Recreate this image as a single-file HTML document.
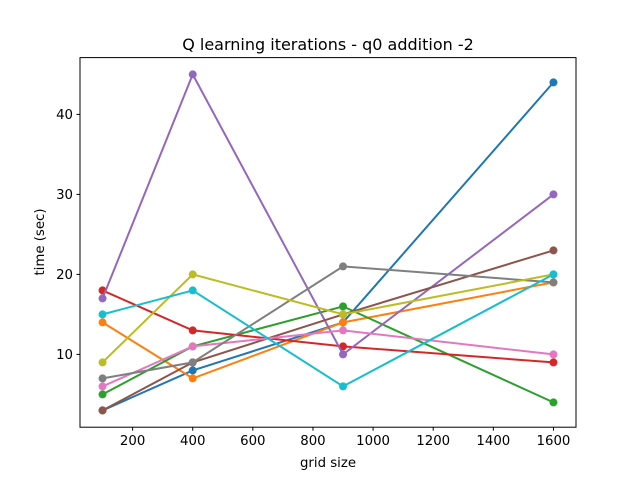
<!DOCTYPE html>
<html><head><meta charset="utf-8"><style>body{margin:0;background:#fff}svg{font-family:"DejaVu Sans","Liberation Sans",sans-serif}</style></head>
<body>
<svg id="chart" width="640" height="480" viewBox="0 0 640 480">
<rect width="640" height="480" fill="#fff"/>
<text x="328" y="50" text-anchor="middle" font-size="16">Q learning iterations - q0 addition -2</text>
<g id="plot"></g>
<rect x="80" y="57.6" width="496" height="369.6" fill="none" stroke="#000" stroke-width="1"/>
<text x="328" y="467" text-anchor="middle" font-size="13.3">grid size</text>
<text transform="translate(44,242) rotate(-90)" text-anchor="middle" font-size="13.3">time (sec)</text>
</svg>
<script>
const xs=[100,400,900,1600];
const blue=[3,8,14,44];
const orange=[14,7,14,19];
const green=[5,11,16,4];
const red=[18,13,11,9];
const purple=[17,45,10,30];
const brown=[3,9,15,23];
const pink=[6,11,13,10];
const gray=[7,9,21,19];
const olive=[9,20,15,20];
const cyan=[15,18,6,20];
const xTicks=[200,400,600,800,1000,1200,1400,1600];
const yTicks=[10,20,30,40];
const series=[["blue",blue,"#1f77b4"],["orange",orange,"#ff7f0e"],["green",green,"#2ca02c"],["red",red,"#d62728"],["purple",purple,"#9467bd"],["brown",brown,"#8c564b"],["pink",pink,"#e377c2"],["gray",gray,"#7f7f7f"],["olive",olive,"#bcbd22"],["cyan",cyan,"#17becf"]];
const NS="http://www.w3.org/2000/svg";
const L=80,R=576,T=57.6,B=427.2;
const allX=xs, allY=series.flatMap(s=>s[1]);
const xmin=Math.min(...allX),xmax=Math.max(...allX),ymin=Math.min(...allY),ymax=Math.max(...allY);
const xp=(xmax-xmin)*0.05,yp=(ymax-ymin)*0.05;
const sx=v=>L+(v-(xmin-xp))/((xmax+xp)-(xmin-xp))*(R-L);
const sy=v=>B-(v-(ymin-yp))/((ymax+yp)-(ymin-yp))*(B-T);
const g=document.getElementById('plot');
function mk(t,a){const e=document.createElementNS(NS,t);for(const k in a)e.setAttribute(k,a[k]);g.appendChild(e);return e;}
xTicks.forEach(v=>{const x=sx(v);
 const l=mk('line',{x1:x,x2:x,y1:B,y2:B+3.5,stroke:'#000'});
 
 
 const t=mk('text',{x:x,y:B+18,'text-anchor':'middle','font-size':'13.3'});t.textContent=v;
 
 });
yTicks.forEach(v=>{const y=sy(v);
 const l=mk('line',{x1:L-3.5,x2:L,y1:y,y2:y,stroke:'#000'});
 
 
 const t=mk('text',{x:L-7,y:y+4.8,'text-anchor':'end','font-size':'13.3'});t.textContent=v;
 
 });
series.forEach(([n,ys,c])=>{
 const p=mk('polyline',{points:xs.map((x,i)=>sx(x)+','+sy(ys[i])).join(' '),fill:'none',stroke:c,'stroke-width':2});
 
 
 xs.forEach((x,i)=>{const m=mk('circle',{cx:sx(x),cy:sy(ys[i]),r:4,fill:c});
  
  });
});
</script>
</body></html>
